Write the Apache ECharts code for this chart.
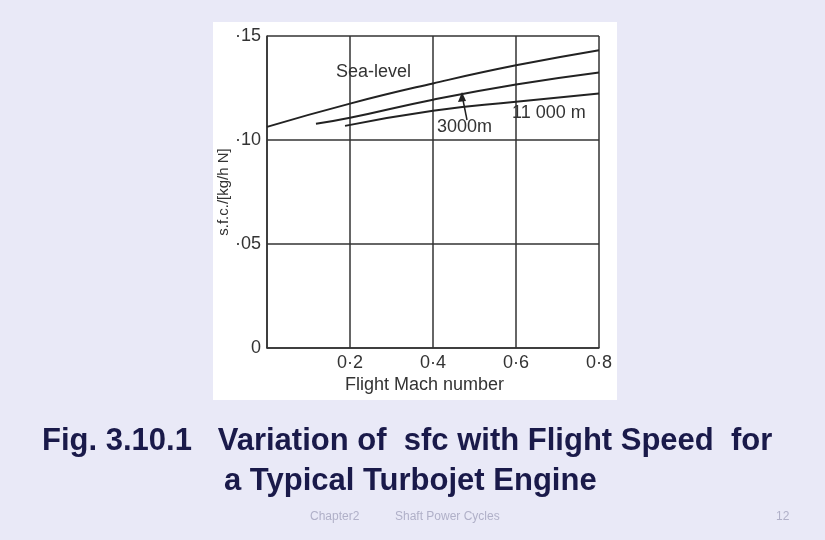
<!DOCTYPE html>
<html><head><meta charset="utf-8">
<script src="https://cdn.jsdelivr.net/npm/echarts@6/dist/echarts.min.js"></script>
<style>html,body{margin:0;padding:0;background:#e9e9f7;}#c{width:825px;height:540px;}</style>
</head><body><div id="c"></div>
<script>
var seaMach = [0, 0.2, 0.4, 0.6, 0.8];
var seaSfc = [0.1063, 0.1175, 0.1272, 0.1359, 0.1432];
var m3000Mach = [0.118, 0.2, 0.4, 0.6, 0.8];
var m3000Sfc = [0.1078, 0.1107, 0.1194, 0.1267, 0.1325];
var m11000Mach = [0.188, 0.4, 0.6, 0.8];
var m11000Sfc = [0.1068, 0.1141, 0.1184, 0.1223];
var xTicks = {0.2: '0·2', 0.4: '0·4', 0.6: '0·6', 0.8: '0·8'};
var yTicks = {0: '0', 0.05: '·05', 0.1: '·10', 0.15: '·15'};

function pairs(xs, ys){
    var out = [];
    for(var i = 0; i < xs.length; i++){ out.push([xs[i], ys[i]]); }
    return out;
}

var chart = echarts.init(document.getElementById('c'));
var lineStyle = {color: '#222', width: 2};
var option = {
    backgroundColor: '#e9e9f7',
    graphic: [
        {type: 'rect', z: -10, shape: {x: 213, y: 22, width: 404, height: 378}, style: {fill: '#fff'}},
        {type: 'text', left: 336, top: 63, style: {text: 'Sea-level', font: '18px Arial', fill: '#333'}},
        {type: 'text', left: 437, top: 118, style: {text: '3000m', font: '18px Arial', fill: '#333'}},
        {type: 'text', left: 512, top: 104, style: {text: '11 000 m', font: '18px Arial', fill: '#333'}},
        {type: 'line', shape: {x1: 467, y1: 120, x2: 462, y2: 95}, style: {stroke: '#222', lineWidth: 1.5}},
        {type: 'polygon', shape: {points: [[462, 92], [458, 102], [466, 101]]}, style: {fill: '#222'}},
        {type: 'text', x: 224, y: 192, rotation: Math.PI / 2, style: {text: 's.f.c./[kg/h N]', font: '15px Arial', fill: '#333', align: 'center', verticalAlign: 'middle'}},
        {type: 'text', left: 345, top: 376, style: {text: 'Flight Mach number', font: '18px Arial', fill: '#333'}},
        {type: 'text', left: 42, top: 426, style: {text: 'Fig. 3.10.1   Variation of  sfc with Flight Speed  for', font: 'bold 31px Arial', fill: '#1a1a4a'}},
        {type: 'text', left: 224, top: 466, style: {text: 'a Typical Turbojet Engine', font: 'bold 31px Arial', fill: '#1a1a4a'}},
        {type: 'text', left: 310, top: 511, style: {text: 'Chapter2', font: '12px Arial', fill: '#b0b0c8'}},
        {type: 'text', left: 395, top: 511, style: {text: 'Shaft Power Cycles', font: '12px Arial', fill: '#b0b0c8'}},
        {type: 'text', left: 776, top: 511, style: {text: '12', font: '12px Arial', fill: '#b0b0c8'}}
    ],
    grid: {left: 267, top: 36, right: 226, bottom: 192},
    xAxis: {
        type: 'value', min: 0, max: 0.8, interval: 0.2,
        axisLine: {lineStyle: {color: '#333', width: 1.5}},
        axisTick: {show: false},
        splitLine: {lineStyle: {color: '#333', width: 1.5}},
        axisLabel: {color: '#333', fontSize: 18, fontFamily: 'Arial', margin: 6,
            formatter: function(v){ return xTicks[Math.round(v * 10) / 10] || ''; }}
    },
    yAxis: {
        type: 'value', min: 0, max: 0.15, interval: 0.05,
        axisLine: {show: true, lineStyle: {color: '#333', width: 1.5}},
        axisTick: {show: false},
        splitLine: {lineStyle: {color: '#333', width: 1.5}},
        axisLabel: {color: '#333', fontSize: 18, fontFamily: 'Arial', margin: 6,
            formatter: function(v){ return yTicks[Math.round(v * 100) / 100]; }}
    },
    series: [
        {name: 'Sea-level', type: 'line', data: pairs(seaMach, seaSfc), showSymbol: false, lineStyle: lineStyle, smooth: true},
        {name: '3000m', type: 'line', data: pairs(m3000Mach, m3000Sfc), showSymbol: false, lineStyle: lineStyle, smooth: true},
        {name: '11 000 m', type: 'line', data: pairs(m11000Mach, m11000Sfc), showSymbol: false, lineStyle: lineStyle, smooth: true}
    ]
};
chart.setOption(option);
</script></body></html>
